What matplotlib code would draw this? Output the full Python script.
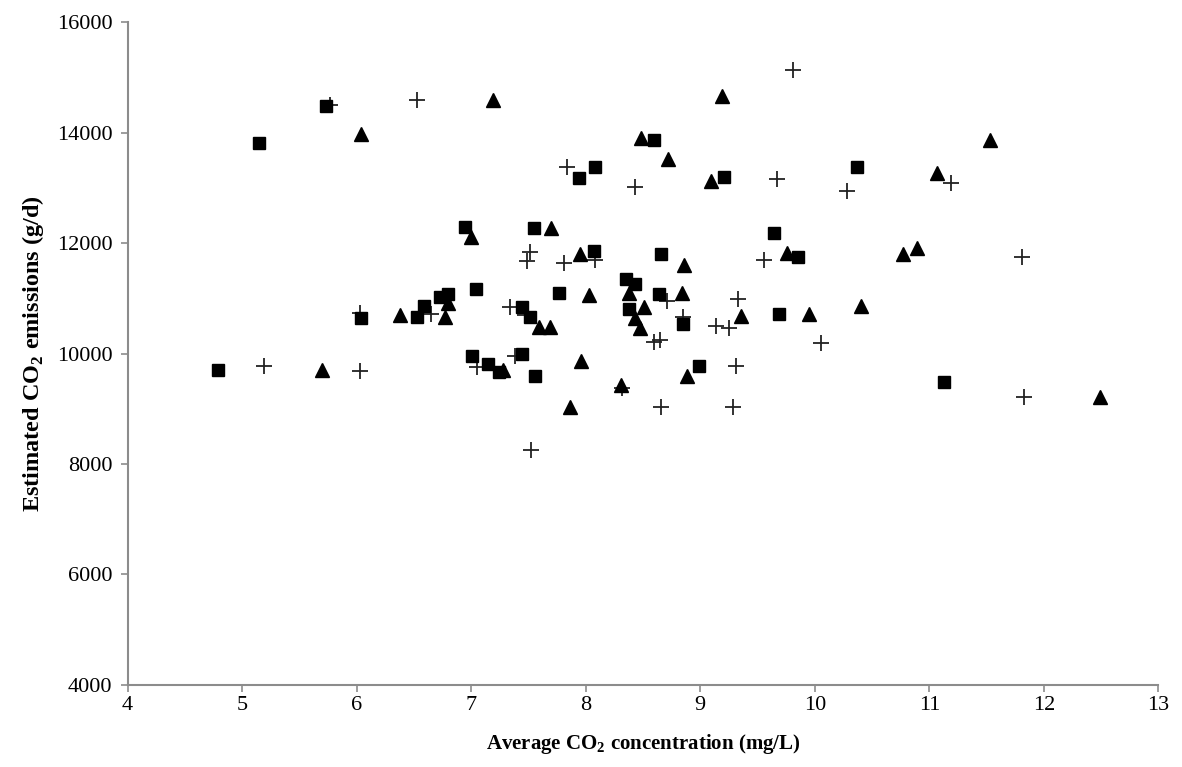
import matplotlib
matplotlib.use("Agg")
import matplotlib.pyplot as plt

plt.rcParams['font.family'] = ['Liberation Serif', 'DejaVu Serif']
plt.rcParams['mathtext.fontset'] = 'custom'
plt.rcParams['mathtext.rm'] = 'Liberation Serif'
plt.rcParams['mathtext.bf'] = 'Liberation Serif:bold'

# Series (x: mg/L, y: g/d)
sq_x = [4.79, 5.15, 5.73, 6.04, 6.53, 6.59, 6.73, 6.80, 6.95, 7.01, 7.04, 7.15,
        7.24, 7.44, 7.44, 7.51, 7.55, 7.56, 7.77, 7.94, 8.07, 8.08, 8.35, 8.38,
        8.43, 8.60, 8.64, 8.66, 8.85, 8.99, 9.21, 9.64, 9.69, 9.85, 10.37, 11.13]
sq_y = [9700, 13820, 14480, 10640, 10655, 10860, 11020, 11080, 12300, 9950, 11170, 9810,
        9670, 10850, 9990, 10670, 12270, 9590, 11100, 13180, 11860, 13380, 11350, 10800,
        11260, 13860, 11080, 11810, 10530, 9780, 13200, 12180, 10710, 11740, 13380, 9490]

tri_x = [5.70, 6.04, 6.38, 6.77, 6.80, 7.00, 7.19, 7.28, 7.59, 7.69, 7.70, 7.86,
         7.95, 7.96, 8.03, 8.31, 8.38, 8.43, 8.47, 8.48, 8.51, 8.72, 8.84, 8.86,
         8.88, 9.09, 9.19, 9.36, 9.76, 9.95, 10.40, 10.77, 10.89, 11.07, 11.53, 12.49]
tri_y = [9710, 13970, 10700, 10660, 10910, 12110, 14600, 9710, 10490, 10490, 12280, 9040,
         11800, 9870, 11060, 9430, 11090, 10640, 10470, 13900, 10850, 13530, 11090, 11600,
         9590, 13130, 14660, 10680, 11820, 10720, 10860, 11800, 11910, 13270, 13860, 9220]

pl_x = [5.19, 5.77, 6.03, 6.03, 6.53, 6.65, 7.05, 7.34, 7.38, 7.47, 7.49, 7.51,
        7.52, 7.81, 7.84, 8.08, 8.32, 8.43, 8.60, 8.65, 8.66, 8.71, 8.85, 9.14,
        9.25, 9.29, 9.31, 9.33, 9.56, 9.67, 9.81, 10.05, 10.28, 11.19, 11.81, 11.83]
pl_y = [9770, 14500, 9680, 10730, 14590, 10710, 9760, 10850, 9960, 10690, 11670, 11840,
        8260, 11640, 13370, 11690, 9370, 13010, 10210, 10250, 9040, 10960, 10670, 10500,
        10470, 9040, 9770, 10990, 11690, 13170, 15140, 10200, 12940, 13090, 11750, 9210]

x_ticks = [4, 5, 6, 7, 8, 9, 10, 11, 12, 13]
y_ticks = [4000, 6000, 8000, 10000, 12000, 14000, 16000]

fig = plt.figure(figsize=(11.82, 7.67), dpi=100)
ax = fig.add_axes([0.108, 0.107, 0.872, 0.864])

ax.plot(pl_x, pl_y, linestyle='none', marker='+', markersize=11,
        markeredgewidth=1.3, color='#222222')
ax.plot(sq_x, sq_y, linestyle='none', marker='s', markersize=9, color='black')
ax.plot(tri_x, tri_y, linestyle='none', marker='^', markersize=10, color='black')

ax.set_xlim(4, 13)
ax.set_ylim(4000, 16000)
ax.set_xticks(x_ticks)
ax.set_yticks(y_ticks)

for side in ['top', 'right']:
    ax.spines[side].set_visible(False)
for side in ['left', 'bottom']:
    ax.spines[side].set_color('#8c8c8c')
    ax.spines[side].set_linewidth(1.5)
ax.tick_params(axis='both', direction='out', length=5, width=1.2,
               color='#8c8c8c', labelsize=16)
ax.tick_params(axis='x', pad=3)
ax.tick_params(axis='y', pad=6)

ax.set_xlabel(r'Average CO$_\mathbf{2}$ concentration (mg/L)',
              fontsize=15, fontweight='bold', labelpad=12)
ax.set_ylabel(r'Estimated CO$_\mathbf{2}$ emissions (g/d)',
              fontsize=17.5, fontweight='bold', labelpad=8)

fig.savefig('out.png', dpi=100)
